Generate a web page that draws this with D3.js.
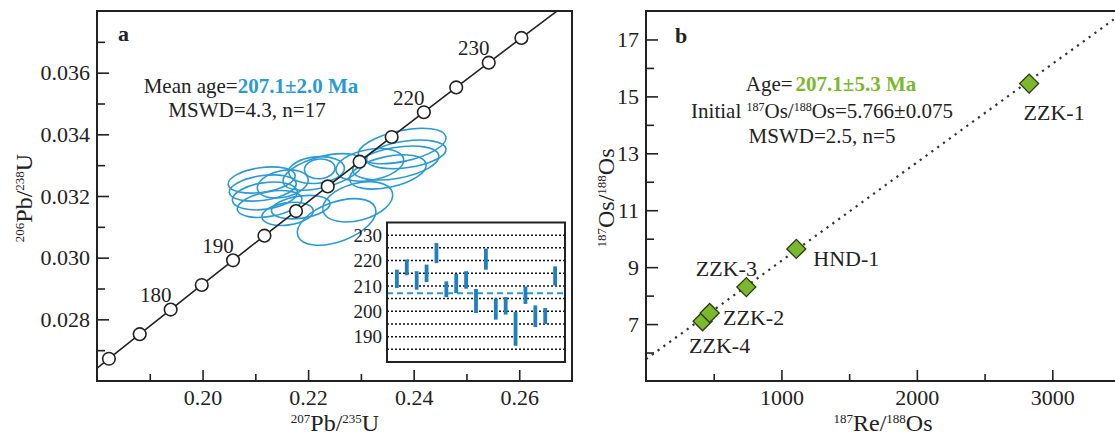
<!DOCTYPE html>
<html>
<head>
<meta charset="utf-8">
<script src="https://cdn.jsdelivr.net/npm/d3@7"></script>
<style>
body { margin: 0; background: #fff; }
svg text { font-family: "Liberation Serif", "Times New Roman", serif; fill: #222; }
</style>
</head>
<body>
<svg width="1115" height="437"></svg>
<script>

// ---- panel a: concordia (ages in Ma, 207Pb/235U, 206Pb/238U)
var concAges = [160, 165, 170, 175, 180, 185, 190, 195, 200, 205, 210, 215, 220, 225, 230, 235, 240, 245, 250];
var conc207 = [0.170672, 0.176452, 0.182257, 0.188092, 0.193957, 0.199850, 0.205774, 0.211727, 0.217708, 0.223719,
               0.229759, 0.235830, 0.241930, 0.248060, 0.254223, 0.260413, 0.266635, 0.272887, 0.279172];
var conc206 = [0.025131, 0.025926, 0.026722, 0.027519, 0.028316, 0.029114, 0.029913, 0.030712, 0.031511, 0.032312,
               0.033113, 0.033914, 0.034717, 0.035520, 0.036323, 0.037127, 0.037932, 0.038737, 0.039543];
var circleAges = [170, 175, 180, 185, 190, 195, 200, 205, 210, 215, 220, 225, 230, 235];
var labelAges = [180, 190, 220, 230];

// ---- panel a: error ellipses (centre, semi axes, tilt in degrees)
var ellX = [0.2112, 0.2114, 0.2118, 0.2127, 0.2152, 0.2216, 0.2222, 0.2228, 0.2186, 0.2294,
            0.2254, 0.2161, 0.2378, 0.2386, 0.2366, 0.2351, 0.2317];
var ellY = [0.03252, 0.03226, 0.03200, 0.03174, 0.03239, 0.03284, 0.03288, 0.03278, 0.03164, 0.03181,
            0.03116, 0.03142, 0.03362, 0.03335, 0.03307, 0.03278, 0.03301];
var ellA = [0.00640, 0.00640, 0.00620, 0.00620, 0.00490, 0.00530, 0.00290, 0.00780, 0.00560, 0.00680,
            0.00780, 0.00490, 0.00850, 0.00760, 0.00830, 0.00740, 0.00650];
var ellB = [0.000400, 0.000400, 0.000430, 0.000400, 0.000430, 0.000430, 0.000320, 0.000500, 0.000360, 0.000600,
            0.000640, 0.000360, 0.000500, 0.000430, 0.000500, 0.000500, 0.000500];
var ellRot = [-8, -8, -8, -10, -12, -5, -5, -15, -8, -15, -20, -8, -12, -8, -10, -12, -10];

// ---- inset: 206Pb/238U ages with error bars
var barLo = [209.2, 214.2, 208.5, 211.5, 219.0, 205.6, 207.2, 208.9, 199.3, 216.4, 196.7, 198.7, 186.4, 202.9, 193.8, 195.0, 210.2];
var barHi = [216.4, 220.4, 215.8, 218.4, 226.9, 211.8, 214.7, 215.8, 208.8, 224.7, 205.0, 205.6, 199.7, 209.8, 202.3, 201.3, 217.7];
var meanAge = 207.1;
var insetTicks = [190, 200, 210, 220, 230];
var insetGrid = [185, 190, 195, 200, 205, 210, 215, 220, 225, 230];

// ---- panel b: Re-Os isochron
var samples = ["ZZK-4", "ZZK-2", "ZZK-3", "HND-1", "ZZK-1"];
var reOs = [418, 470, 741, 1110, 2829];
var osOs = [7.10, 7.39, 8.30, 9.64, 15.45];
var isoRe = [0, 3600];
var isoOs = [5.766, 18.21];

var serif = "'Liberation Serif', 'Times New Roman', serif";
var ink = "#222";
var blue = "#2a9ad4";
var barBlue = "#1f7fbf";
var green = "#7ab82e";

var svg = d3.select("svg");
var defs = svg.append("defs");

function styleAxis(a, size) {
  a.attr("font-family", serif).attr("font-size", size);
  a.select(".domain").remove();
  a.selectAll("line").attr("stroke", ink).attr("stroke-width", 1.6);
  a.selectAll("text").attr("fill", ink);
}

// text with superscript pieces, parts = [[text, isSup], ...]
function richText(g, parts, big, small) {
  var t = g.append("text").attr("font-size", big);
  var up = false;
  parts.forEach(function(p) {
    var s = t.append("tspan").text(p[0]);
    if (p[1]) {
      s.attr("font-size", small).attr("dy", up ? 0 : -big * 0.35);
      up = true;
    } else {
      s.attr("dy", up ? big * 0.35 : 0);
      up = false;
    }
  });
  return t;
}

// ================= panel a =================
var xA = d3.scaleLinear().domain([0.18, 0.27]).range([97, 572]);
var yA = d3.scaleLinear().domain([0.026, 0.038]).range([381, 11]);
var gA = svg.append("g");

defs.append("clipPath").attr("id", "clipA").append("rect")
    .attr("x", xA(0.18)).attr("y", yA(0.038))
    .attr("width", xA(0.27) - xA(0.18)).attr("height", yA(0.026) - yA(0.038));

var axA = gA.append("g").attr("transform", "translate(0," + yA(0.026) + ")")
    .call(d3.axisBottom(xA).tickValues([0.20, 0.22, 0.24, 0.26]).tickFormat(d3.format(".2f"))
      .tickSizeInner(-11).tickSizeOuter(0).tickPadding(8));
styleAxis(axA, 22);
var axA2 = gA.append("g").attr("transform", "translate(0," + yA(0.026) + ")")
    .call(d3.axisBottom(xA).tickValues([0.19, 0.21, 0.23, 0.25]).tickFormat("").tickSizeInner(-7).tickSizeOuter(0));
styleAxis(axA2, 22);

var ayA = gA.append("g").attr("transform", "translate(" + xA(0.18) + ",0)")
    .call(d3.axisLeft(yA).tickValues([0.028, 0.030, 0.032, 0.034, 0.036]).tickFormat(d3.format(".3f"))
      .tickSizeInner(-12).tickSizeOuter(0).tickPadding(7));
styleAxis(ayA, 22);
var ayA2 = gA.append("g").attr("transform", "translate(" + xA(0.18) + ",0)")
    .call(d3.axisLeft(yA).tickValues([0.027, 0.029, 0.031, 0.033, 0.035, 0.037]).tickFormat("")
      .tickSizeInner(-8).tickSizeOuter(0));
styleAxis(ayA2, 22);

// ellipses
gA.append("g").attr("clip-path", "url(#clipA)")
  .selectAll("ellipse").data(ellX).join("ellipse")
    .attr("cx", function(d) { return xA(d); })
    .attr("cy", function(d, i) { return yA(ellY[i]); })
    .attr("rx", function(d, i) { return xA(d + ellA[i]) - xA(d); })
    .attr("ry", function(d, i) { return yA(ellY[i]) - yA(ellY[i] + ellB[i]); })
    .attr("transform", function(d, i) { return "rotate(" + ellRot[i] + "," + xA(d) + "," + yA(ellY[i]) + ")"; })
    .attr("fill", "none").attr("stroke", blue).attr("stroke-width", 1.6);

// concordia
var conc = concAges.map(function(a, i) { return [conc207[i], conc206[i]]; });
gA.append("path").datum(conc).attr("clip-path", "url(#clipA)")
    .attr("d", d3.line().x(function(d) { return xA(d[0]); }).y(function(d) { return yA(d[1]); }))
    .attr("fill", "none").attr("stroke", ink).attr("stroke-width", 1.6);

gA.selectAll("circle.age").data(circleAges).join("circle").attr("class", "age")
    .attr("cx", function(a) { return xA(conc207[concAges.indexOf(a)]); })
    .attr("cy", function(a) { return yA(conc206[concAges.indexOf(a)]); })
    .attr("r", 6.3).attr("fill", "#fff").attr("stroke", ink).attr("stroke-width", 1.6);

gA.selectAll("text.age").data(labelAges).join("text").attr("class", "age")
    .attr("x", function(a) { return xA(conc207[concAges.indexOf(a)]) - 15; })
    .attr("y", function(a) { return yA(conc206[concAges.indexOf(a)]) - 15; })
    .attr("dy", "0.35em").attr("text-anchor", "middle").attr("font-size", 21)
    .text(function(a) { return a; });

// frame
gA.append("rect").attr("x", xA(0.18)).attr("y", yA(0.038))
    .attr("width", xA(0.27) - xA(0.18)).attr("height", yA(0.026) - yA(0.038))
    .attr("fill", "none").attr("stroke", ink).attr("stroke-width", 2);

gA.append("text").attr("x", 118).attr("y", 33).attr("dy", "0.35em")
    .attr("font-size", 22).attr("font-weight", "bold").text("a");

var mt = gA.append("text").attr("x", 251).attr("y", 86).attr("dy", "0.35em")
    .attr("text-anchor", "middle").attr("font-size", 21);
mt.append("tspan").text("Mean age=");
mt.append("tspan").attr("font-weight", "bold").attr("fill", blue).text("207.1±2.0 Ma");
gA.append("text").attr("x", 247).attr("y", 110).attr("dy", "0.35em")
    .attr("text-anchor", "middle").attr("font-size", 21).text("MSWD=4.3, n=17");

richText(gA, [["207", true], ["Pb/", false], ["235", true], ["U", false]], 24, 13)
    .attr("x", 335).attr("y", 431).attr("text-anchor", "middle");
richText(gA, [["206", true], ["Pb/", false], ["238", true], ["U", false]], 24, 13)
    .attr("transform", "translate(32,198) rotate(-90)").attr("text-anchor", "middle");

// inset
var xI = d3.scaleLinear().domain([0, 18]).range([387, 565]);
var yI = d3.scaleLinear().domain([180, 235]).range([362, 222.5]);
var gI = gA.append("g");
gI.append("rect").attr("x", xI(0)).attr("y", yI(235))
    .attr("width", xI(18) - xI(0)).attr("height", yI(180) - yI(235))
    .attr("fill", "#fff");
gI.selectAll("line.grid").data(insetGrid).join("line").attr("class", "grid")
    .attr("x1", xI(0)).attr("x2", xI(18))
    .attr("y1", function(d) { return yI(d); }).attr("y2", function(d) { return yI(d); })
    .attr("stroke", "#111").attr("stroke-width", 1.5).attr("stroke-dasharray", "2,2");
gI.append("line").attr("x1", xI(0)).attr("x2", xI(18))
    .attr("y1", yI(meanAge)).attr("y2", yI(meanAge))
    .attr("stroke", blue).attr("stroke-width", 2).attr("stroke-dasharray", "6,4");
gI.selectAll("rect.bar").data(barLo).join("rect").attr("class", "bar")
    .attr("x", function(d, i) { return xI(i + 1) - 1.9; })
    .attr("y", function(d, i) { return yI(barHi[i]); })
    .attr("width", 3.8)
    .attr("height", function(d, i) { return yI(d) - yI(barHi[i]); })
    .attr("fill", barBlue);
gI.selectAll("text.it").data(insetTicks).join("text").attr("class", "it")
    .attr("x", xI(0) - 5).attr("y", function(d) { return yI(d); }).attr("dy", "0.35em")
    .attr("text-anchor", "end").attr("font-size", 19).text(function(d) { return d; });
gI.append("rect").attr("x", xI(0)).attr("y", yI(235))
    .attr("width", xI(18) - xI(0)).attr("height", yI(180) - yI(235))
    .attr("fill", "none").attr("stroke", ink).attr("stroke-width", 2);

// ================= panel b =================
var xB = d3.scaleLinear().domain([0, 3500]).range([646, 1120]);
var yB = d3.scaleLinear().domain([5, 18]).range([381, 11]);
var gB = svg.append("g");

defs.append("clipPath").attr("id", "clipB").append("rect")
    .attr("x", xB(0)).attr("y", yB(18))
    .attr("width", xB(3500) - xB(0)).attr("height", yB(5) - yB(18));

var axB = gB.append("g").attr("transform", "translate(0," + yB(5) + ")")
    .call(d3.axisBottom(xB).tickValues([1000, 2000, 3000]).tickFormat(d3.format("d"))
      .tickSizeInner(-11).tickSizeOuter(0).tickPadding(8));
styleAxis(axB, 22);
var axB2 = gB.append("g").attr("transform", "translate(0," + yB(5) + ")")
    .call(d3.axisBottom(xB).tickValues([500, 1500, 2500]).tickFormat("").tickSizeInner(-7).tickSizeOuter(0));
styleAxis(axB2, 22);

var ayB = gB.append("g").attr("transform", "translate(" + xB(0) + ",0)")
    .call(d3.axisLeft(yB).tickValues([7, 9, 11, 13, 15, 17]).tickFormat(d3.format("d"))
      .tickSizeInner(-12).tickSizeOuter(0).tickPadding(7));
styleAxis(ayB, 22);
var ayB2 = gB.append("g").attr("transform", "translate(" + xB(0) + ",0)")
    .call(d3.axisLeft(yB).tickValues([6, 8, 10, 12, 14, 16]).tickFormat("").tickSizeInner(-8).tickSizeOuter(0));
styleAxis(ayB2, 22);

// isochron
gB.append("line").attr("clip-path", "url(#clipB)")
    .attr("x1", xB(isoRe[0])).attr("y1", yB(isoOs[0]))
    .attr("x2", xB(isoRe[1])).attr("y2", yB(isoOs[1]))
    .attr("stroke", "#333").attr("stroke-width", 2.2).attr("stroke-dasharray", "2.2,5");

var labelOffset = { "ZZK-1": [25, 29], "HND-1": [50, 9], "ZZK-3": [-20, -19], "ZZK-2": [44, 4], "ZZK-4": [17, 24] };

gB.selectAll("path.pt").data(samples).join("path").attr("class", "pt")
    .attr("d", d3.symbol().type(d3.symbolSquare).size(180))
    .attr("transform", function(d, i) { return "translate(" + xB(reOs[i]) + "," + yB(osOs[i]) + ") rotate(45)"; })
    .attr("fill", green).attr("stroke", "#2b3a12").attr("stroke-width", 1.3);

gB.selectAll("text.pt").data(samples).join("text").attr("class", "pt")
    .attr("x", function(d, i) { return xB(reOs[i]) + labelOffset[d][0]; })
    .attr("y", function(d, i) { return yB(osOs[i]) + labelOffset[d][1]; })
    .attr("dy", "0.35em").attr("text-anchor", "middle").attr("font-size", 22)
    .text(function(d) { return d; });

gB.append("rect").attr("x", xB(0)).attr("y", yB(18))
    .attr("width", xB(3500) - xB(0)).attr("height", yB(5) - yB(18))
    .attr("fill", "none").attr("stroke", ink).attr("stroke-width", 2);

gB.append("text").attr("x", 675).attr("y", 35).attr("dy", "0.35em")
    .attr("font-size", 22).attr("font-weight", "bold").text("b");

var at = gB.append("text").attr("x", 831).attr("y", 84).attr("dy", "0.35em")
    .attr("text-anchor", "middle").attr("font-size", 21);
at.append("tspan").text("Age=");
at.append("tspan").attr("dx", 3).attr("font-weight", "bold").attr("fill", green).text("207.1±5.3 Ma");
richText(gB, [["Initial ", false], ["187", true], ["Os/", false], ["188", true], ["Os=5.766±0.075", false]], 21, 12)
    .attr("x", 822).attr("y", 118).attr("text-anchor", "middle");
gB.append("text").attr("x", 822).attr("y", 136).attr("dy", "0.35em")
    .attr("text-anchor", "middle").attr("font-size", 21).text("MSWD=2.5, n=5");

richText(gB, [["187", true], ["Re/", false], ["188", true], ["Os", false]], 24, 13)
    .attr("x", 883).attr("y", 431).attr("text-anchor", "middle");
richText(gB, [["187", true], ["Os/", false], ["188", true], ["Os", false]], 24, 13)
    .attr("transform", "translate(614,198) rotate(-90)").attr("text-anchor", "middle");

</script>
</body>
</html>
